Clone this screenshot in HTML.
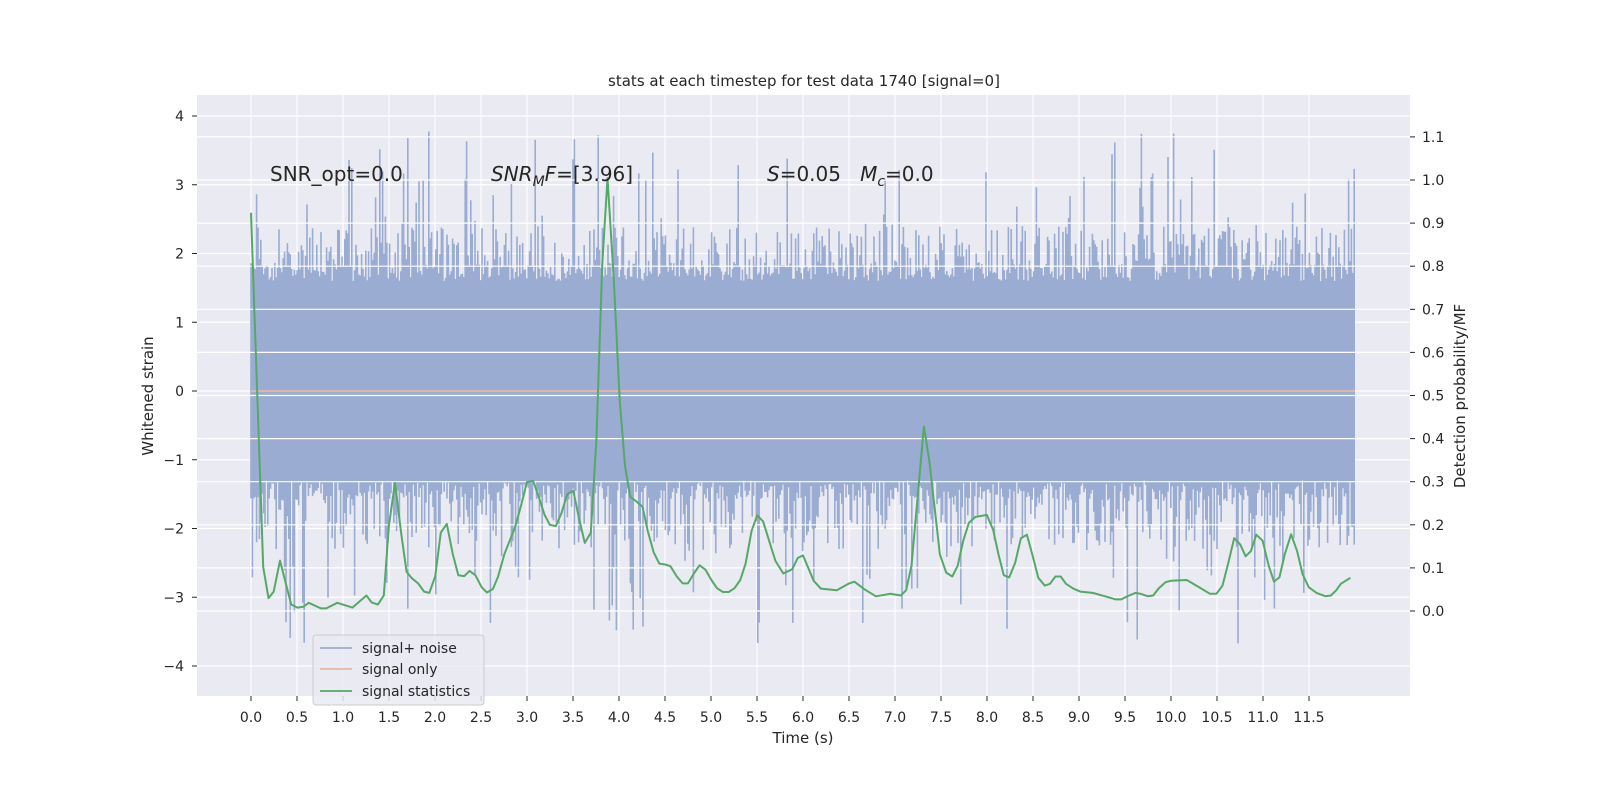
<!DOCTYPE html>
<html><head><meta charset="utf-8">
<style>
body{margin:0;background:#fff;}
svg text{font-family:"DejaVu Sans","Liberation Sans",sans-serif;fill:#262626;}
</style></head>
<body>
<svg id="chart" width="1600" height="800" viewBox="0 0 1600 800" xmlns="http://www.w3.org/2000/svg">
<rect x="197" y="95" width="1213" height="601" fill="#EAEAF2"/>
<g id="gridL"></g>
<g id="noise"></g>
<g id="gridR"></g>
<g id="series"></g>
<g id="axes"></g>
<text x="804" y="86" font-size="15" text-anchor="middle">stats at each timestep for test data 1740 [signal=0]</text>
<text x="270" y="181" font-size="20">SNR_opt=0.0</text>
<text x="491" y="181" font-size="20"><tspan font-style="italic">SNR</tspan><tspan font-style="italic" font-size="14" dy="5">M</tspan><tspan font-style="italic" dy="-5">F</tspan>=[3.96]</text>
<text x="767" y="181" font-size="20" style="white-space:pre"><tspan font-style="italic">S</tspan>=0.05   <tspan font-style="italic">M</tspan><tspan font-style="italic" font-size="14" dy="5">c</tspan><tspan dy="-5">=0.0</tspan></text>
<text x="803" y="743" font-size="15" text-anchor="middle">Time (s)</text>
<text transform="translate(153,396) rotate(-90)" font-size="15" text-anchor="middle">Whitened strain</text>
<text transform="translate(1465,396) rotate(-90)" font-size="15" text-anchor="middle">Detection probability/MF</text>
<g>
<rect x="313" y="635" width="171" height="70" rx="3" fill="#EAEAF2" fill-opacity="0.85" stroke="#cccccc"/>
<g><line x1="320" y1="648" x2="352" y2="648" stroke="#9AACD1" stroke-width="1.8"/><text x="362" y="653" font-size="14">signal+ noise</text></g>
<g><line x1="320" y1="669" x2="352" y2="669" stroke="#E4B7A3" stroke-width="1.8"/><text x="362" y="674" font-size="14">signal only</text></g>
<g><line x1="320" y1="691" x2="352" y2="691" stroke="#55A868" stroke-width="1.8"/><text x="362" y="696" font-size="14">signal statistics</text></g>
</g>
</svg>
<script>
const statTimes=[0,0.133,0.19,0.247,0.315,0.437,0.505,0.57,0.627,0.76,0.817,0.938,1.102,1.254,1.311,1.379,1.444,1.50,1.565,1.634,1.691,1.748,1.816,1.881,1.938,2.002,2.063,2.128,2.192,2.253,2.318,2.375,2.439,2.508,2.565,2.629,2.686,2.755,2.869,2.937,3.0,3.066,3.127,3.191,3.248,3.313,3.374,3.438,3.503,3.564,3.628,3.693,3.754,3.818,3.875,3.944,4.008,4.065,4.122,4.19,4.255,4.312,4.377,4.438,4.502,4.559,4.628,4.692,4.749,4.814,4.875,4.939,5.004,5.065,5.129,5.194,5.255,5.319,5.376,5.441,5.502,5.566,5.631,5.699,5.786,5.884,5.942,6.0,6.116,6.193,6.367,6.502,6.56,6.657,6.792,6.947,7.063,7.121,7.179,7.314,7.372,7.488,7.557,7.623,7.681,7.739,7.804,7.874,7.998,8.067,8.125,8.183,8.241,8.307,8.369,8.434,8.492,8.558,8.628,8.685,8.743,8.801,8.859,8.937,9.014,9.149,9.284,9.4,9.458,9.535,9.613,9.671,9.748,9.806,9.864,9.941,9.999,10.173,10.289,10.424,10.494,10.56,10.618,10.687,10.753,10.811,10.869,10.927,10.996,11.062,11.12,11.178,11.236,11.305,11.371,11.429,11.498,11.583,11.68,11.738,11.796,11.846,11.95];
const statValues=[0.924,0.102,0.03,0.045,0.117,0.015,0.008,0.01,0.019,0.006,0.006,0.019,0.008,0.036,0.02,0.015,0.036,0.2,0.297,0.178,0.091,0.076,0.064,0.045,0.042,0.08,0.182,0.202,0.133,0.083,0.081,0.093,0.083,0.055,0.043,0.051,0.08,0.133,0.193,0.246,0.299,0.302,0.265,0.223,0.2,0.197,0.227,0.271,0.279,0.216,0.158,0.182,0.398,0.807,1.004,0.769,0.489,0.337,0.265,0.254,0.242,0.186,0.136,0.11,0.108,0.104,0.08,0.064,0.064,0.087,0.106,0.096,0.072,0.053,0.044,0.044,0.053,0.072,0.11,0.186,0.222,0.208,0.163,0.117,0.087,0.097,0.123,0.129,0.07,0.052,0.048,0.064,0.068,0.052,0.034,0.04,0.036,0.048,0.105,0.428,0.351,0.131,0.089,0.08,0.105,0.161,0.205,0.218,0.223,0.188,0.131,0.083,0.078,0.112,0.169,0.177,0.131,0.077,0.059,0.063,0.08,0.08,0.063,0.052,0.045,0.042,0.034,0.027,0.027,0.035,0.042,0.04,0.034,0.036,0.052,0.067,0.07,0.072,0.057,0.04,0.04,0.059,0.108,0.169,0.154,0.127,0.139,0.177,0.163,0.105,0.068,0.078,0.131,0.178,0.139,0.086,0.055,0.042,0.034,0.036,0.048,0.063,0.077];
const signalOnly=[0,0];
const signalTimes=[0,12];
const xTicks=["0.0","0.5","1.0","1.5","2.0","2.5","3.0","3.5","4.0","4.5","5.0","5.5","6.0","6.5","7.0","7.5","8.0","8.5","9.0","9.5","10.0","10.5","11.0","11.5"];
const yTicksLeft=[4,3,2,1,0,-1,-2,-3,-4];
const yTicksRight=["0.0","0.1","0.2","0.3","0.4","0.5","0.6","0.7","0.8","0.9","1.0","1.1"];
const noiseCore=[1.6,-1.3];
const noiseFringe=[2.4,-2.3];

const NS="http://www.w3.org/2000/svg";
const X=t=>251+t*92;
const YL=v=>391-v*68.75;
const YR=p=>611-p*431;
function mk(tag,attrs,parent){const e=document.createElementNS(NS,tag);for(const k in attrs)e.setAttribute(k,attrs[k]);parent.appendChild(e);return e;}
const gL=document.getElementById('gridL'),gR=document.getElementById('gridR'),gN=document.getElementById('noise'),gS=document.getElementById('series'),gA=document.getElementById('axes');

xTicks.forEach(s=>{const x=X(parseFloat(s));
 const l=mk('line',{x1:x,x2:x,y1:95,y2:696,stroke:'#fff','stroke-width':1.2},gL);
 
 const tk=mk('line',{x1:x,x2:x,y1:696,y2:701,stroke:'#262626','stroke-width':1},gA);
 
 const t=mk('text',{x:x,y:722,'font-size':14,'text-anchor':'middle'},gA);t.textContent=s;
 });
yTicksLeft.forEach(v=>{const y=YL(v);
 const l=mk('line',{x1:197,x2:1410,y1:y,y2:y,stroke:'#fff','stroke-width':1.2},gL);
 
 const tk=mk('line',{x1:192,x2:197,y1:y,y2:y,stroke:'#262626','stroke-width':1},gA);
 
 const t=mk('text',{x:184,y:y+5,'font-size':14,'text-anchor':'end'},gA);t.textContent=(v<0?'\u2212'+(-v):String(v));
 });
yTicksRight.forEach(s=>{const y=YR(parseFloat(s));
 const l=mk('line',{x1:197,x2:1410,y1:y,y2:y,stroke:'#fff','stroke-width':1.2},gR);
 
 const tk=mk('line',{x1:1410,x2:1415,y1:y,y2:y,stroke:'#262626','stroke-width':1},gA);
 
 const t=mk('text',{x:1422,y:y+5,'font-size':14},gA);t.textContent=s;
 });

// noise texture (seeded, visual only)
let seed=1740;function rnd(){seed=(seed*16807)%2147483647;return seed/2147483647;}
let d='';
for(let x=X(0);x<=X(12);x+=1.4){
 let hi=noiseCore[0]+0.25*rnd(),lo=noiseCore[1]-0.3*rnd();
 const a=rnd(),b=rnd();
 if(a>0.55)hi=1.85+(noiseFringe[0]-1.85)*rnd();
 if(a>0.92)hi=2.4+1.4*rnd();
 if(b>0.55)lo=-1.6-(-noiseFringe[1]-1.6)*rnd();
 if(b>0.92)lo=-2.3-1.4*rnd();
 d+=`M${x.toFixed(1)} ${YL(hi).toFixed(1)}V${YL(lo).toFixed(1)}`;
}
const np=mk('path',{d:d,stroke:'#9AACD1','stroke-width':1.6,fill:'none'},gN);

mk('rect',{x:X(0),y:YL(1.6),width:X(12)-X(0),height:YL(-1.3)-YL(1.6),fill:'#9AACD1'},gN);

const so=mk('polyline',{points:signalTimes.map((t,i)=>X(t)+','+YL(signalOnly[i])).join(' '),stroke:'#E4B7A3','stroke-width':1.8,fill:'none'},gN);


const st=mk('polyline',{points:statTimes.map((t,i)=>X(t).toFixed(1)+','+YR(statValues[i]).toFixed(1)).join(' '),stroke:'#55A868','stroke-width':2,fill:'none','stroke-linejoin':'round'},gS);

</script>
</body></html>
